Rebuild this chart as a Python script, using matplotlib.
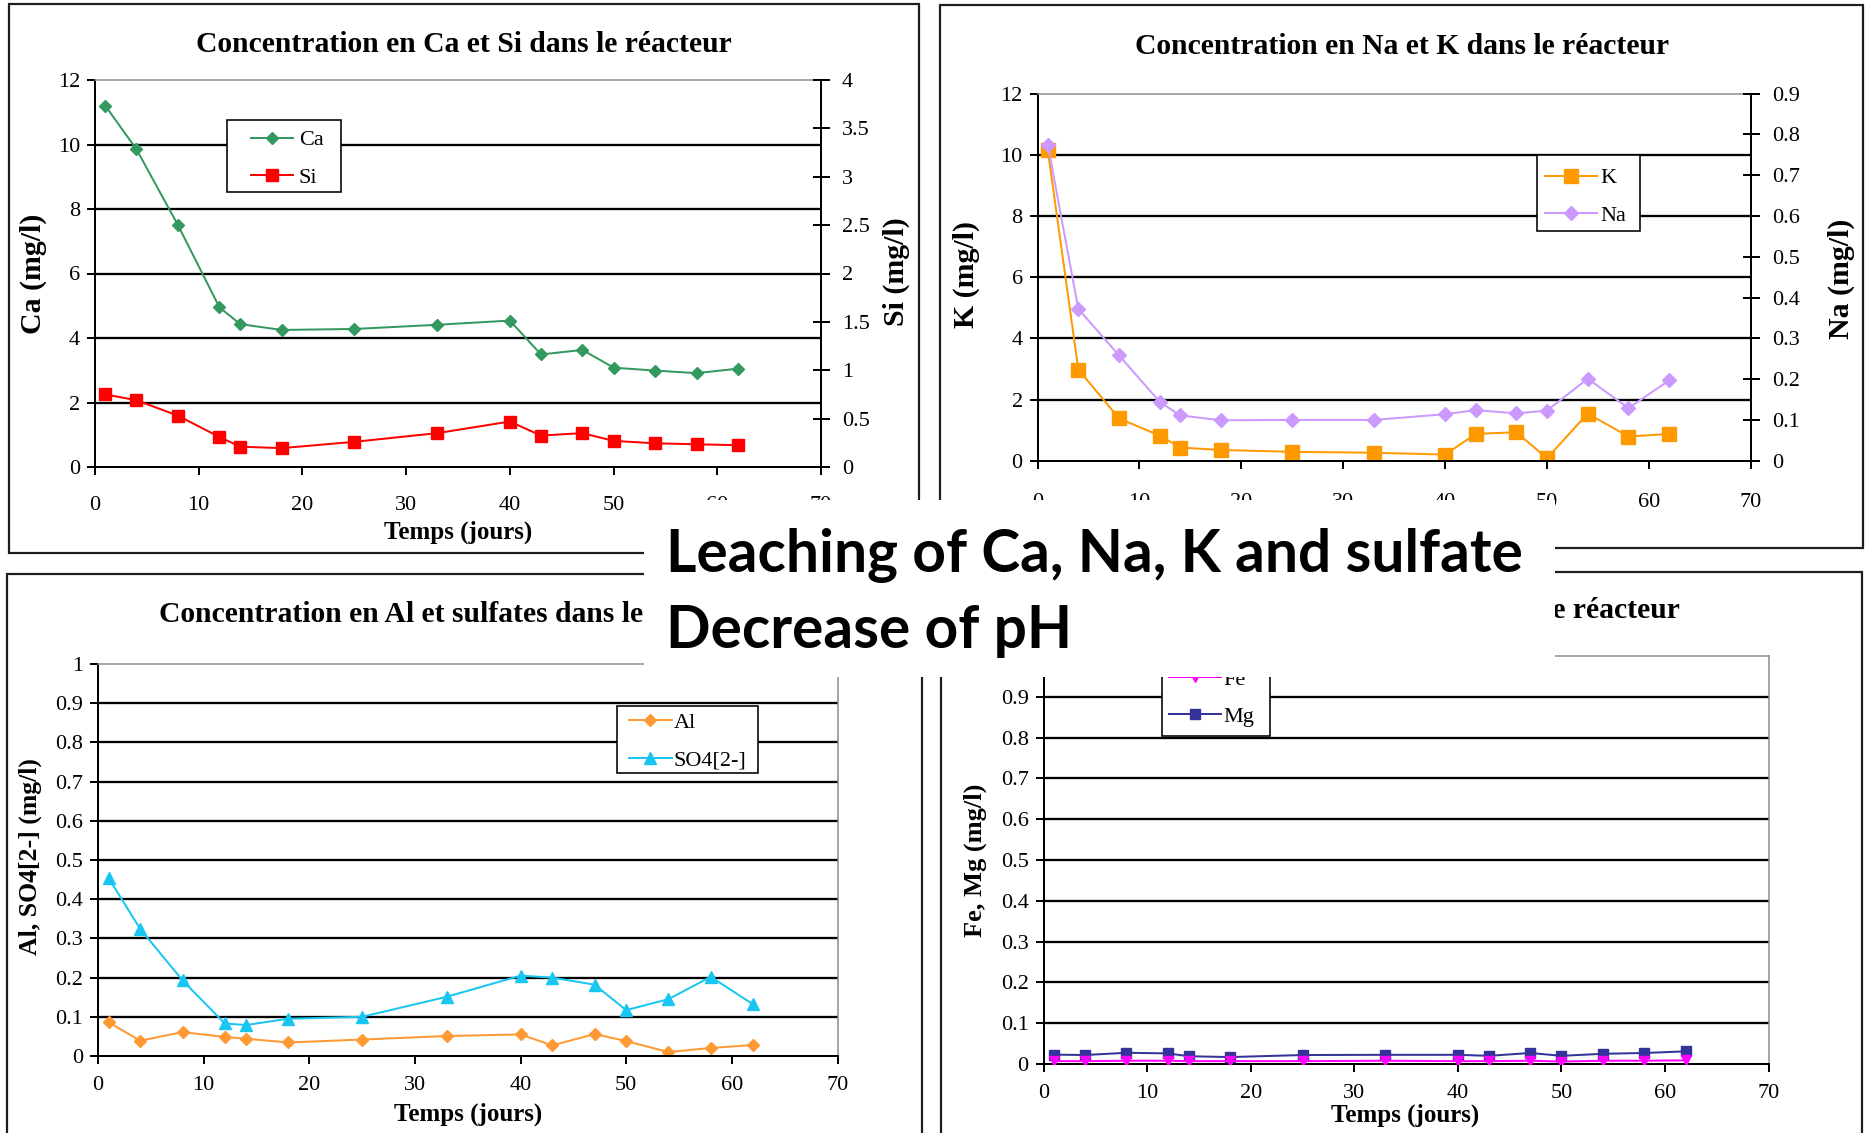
import matplotlib
matplotlib.use('Agg')
import matplotlib.pyplot as plt
from matplotlib.patches import Rectangle
from matplotlib.ticker import FuncFormatter

# ---------------- data ----------------
DAYS = [1, 4, 8, 12, 14, 18, 25, 33, 40, 43, 47, 50, 54, 58, 62]
CA = [11.2, 9.85, 7.5, 4.95, 4.43, 4.25, 4.28, 4.41, 4.54, 3.49, 3.63, 3.08, 2.99, 2.91, 3.05]
SI = [0.75, 0.69, 0.53, 0.31, 0.21, 0.195, 0.26, 0.35, 0.47, 0.325, 0.35, 0.27, 0.245, 0.235, 0.225]
K = [10.15, 2.98, 1.38, 0.82, 0.43, 0.35, 0.29, 0.26, 0.2, 0.875, 0.93, 0.08, 1.54, 0.79, 0.875]
NA = [0.775, 0.372, 0.258, 0.144, 0.111, 0.099, 0.1, 0.1, 0.114, 0.124, 0.116, 0.123, 0.201, 0.129, 0.197]
AL = [0.086, 0.039, 0.061, 0.0485, 0.044, 0.0345, 0.042, 0.051, 0.055, 0.027, 0.056, 0.038, 0.01, 0.0205, 0.028]
SO4 = [0.454, 0.324, 0.193, 0.083, 0.079, 0.095, 0.1, 0.151, 0.205, 0.2, 0.182, 0.117, 0.145, 0.202, 0.132]
FE = [0.007, 0.007, 0.008, 0.008, 0.007, 0.007, 0.007, 0.008, 0.007, 0.007, 0.008, 0.006, 0.008, 0.008, 0.009]
MG = [0.023, 0.022, 0.0275, 0.026, 0.019, 0.017, 0.022, 0.0225, 0.0225, 0.02, 0.027, 0.02, 0.025, 0.027, 0.031]

X_TICKS = [0, 10, 20, 30, 40, 50, 60, 70]
CA_TICKS = [0, 2, 4, 6, 8, 10, 12]
SI_TICKS = [0, 0.5, 1, 1.5, 2, 2.5, 3, 3.5, 4]
K_TICKS = [0, 2, 4, 6, 8, 10, 12]
NA_TICKS = [0, 0.1, 0.2, 0.3, 0.4, 0.5, 0.6, 0.7, 0.8, 0.9]
LOW_TICKS = [0, 0.1, 0.2, 0.3, 0.4, 0.5, 0.6, 0.7, 0.8, 0.9, 1]

TITLES = ["Concentration en Ca et Si dans le réacteur",
          "Concentration en Na et K dans le réacteur",
          "Concentration en Al et sulfates dans le réacteur",
          "Concentration en Fe et Mg dans le réacteur"]
XLABEL = "Temps (jours)"
OVERLAY = ["Leaching of Ca, Na, K and sulfate", "Decrease of pH"]

# ---------------- layout helpers (pixel based) ----------------
W, H = 1867, 1133
DPI = 100
PX = 72.0 / DPI

plt.rcParams['font.family'] = ['Liberation Serif', 'DejaVu Serif']

fig = plt.figure(figsize=(W / DPI, H / DPI), dpi=DPI, facecolor='white')


def fx(x):
    return x / W


def fy(y):
    return 1 - y / H


def add_axes(l, t, r, b):
    return fig.add_axes([l / W, 1 - b / H, (r - l) / W, (b - t) / H])


def frame(l, t, r, b):
    fig.add_artist(Rectangle((fx(l), fy(b)), (r - l) / W, (b - t) / H,
                             transform=fig.transFigure, fill=False,
                             edgecolor='#1e1e1e', lw=2.2 * PX, zorder=1))


fmt = FuncFormatter(lambda v, p: f"{v:g}")
TICK_FS = 16


def style(ax, yticks, xpad):
    ax.set_xlim(0, 70)
    ax.set_ylim(yticks[0], yticks[-1])
    ax.set_xticks(X_TICKS)
    ax.set_yticks(yticks)
    ax.yaxis.set_major_formatter(fmt)
    for s in ['left', 'bottom']:
        ax.spines[s].set_color('black')
        ax.spines[s].set_linewidth(2 * PX)
    for s in ['top', 'right']:
        ax.spines[s].set_color('#8a8a8a')
        ax.spines[s].set_linewidth(1.5 * PX)
    ax.tick_params(axis='both', direction='out', length=8 * PX, width=2 * PX,
                   labelsize=TICK_FS, colors='black')
    ax.tick_params(axis='x', pad=xpad)
    ax.tick_params(axis='y', pad=5, right=False)
    ax.hlines(yticks[1:-1], 0, 1, transform=ax.get_yaxis_transform(),
              colors='black', lw=2.3 * PX, zorder=1)


def set_xlab(ax, box, xy):
    l, t, r, b = box
    ax.set_xlabel(XLABEL, fontsize=18, fontweight='bold')
    ax.xaxis.set_label_coords((xy[0] - l) / (r - l), (b - xy[1]) / (b - t))
    ax.xaxis.label.set_va('center')


def set_ylab(ax, box, text, xy, fs):
    l, t, r, b = box
    ax.set_ylabel(text, fontsize=fs, fontweight='bold')
    ax.yaxis.set_label_coords((xy[0] - l) / (r - l), (b - xy[1]) / (b - t))
    ax.yaxis.label.set_va('center')
    ax.yaxis.label.set_ha('center')


def twin(ax, yticks, box, ylab, ylab_xy, ylab_fs):
    tw = ax.twinx()
    tw.set_ylim(yticks[0], yticks[-1])
    tw.set_yticks(yticks)
    tw.yaxis.set_major_formatter(fmt)
    for s in ['left', 'top', 'bottom']:
        tw.spines[s].set_visible(False)
    tw.spines['right'].set_color('black')
    tw.spines['right'].set_linewidth(2 * PX)
    ax.spines['right'].set_visible(False)
    tw.tick_params(axis='y', direction='inout', length=17 * PX, width=2 * PX,
                   labelsize=TICK_FS, pad=9, colors='black')
    set_ylab(tw, box, ylab, ylab_xy, ylab_fs)
    return tw


def legend(handles, labels, x_handle, y_mid, hl, htp, ls, box):
    l, t, r, b = box
    fig.add_artist(Rectangle((fx(l), fy(b)), (r - l) / W, (b - t) / H,
                             transform=fig.transFigure, facecolor='white',
                             edgecolor='black', lw=1.6 * PX, zorder=4.9))
    lg = fig.legend(handles, labels, loc='center left',
                    bbox_to_anchor=(fx(x_handle), fy(y_mid)),
                    bbox_transform=fig.transFigure, frameon=False,
                    borderpad=0, borderaxespad=0, handlelength=hl,
                    handletextpad=htp, labelspacing=ls,
                    prop={'family': 'Liberation Serif', 'size': 16})
    lg.set_zorder(5)
    return lg


LW = 2 * PX

# ---------------- panel frames ----------------
frame(9, 4, 919, 553)
frame(940, 5, 1863, 548)
frame(7, 574, 922, 1150)
frame(941, 572, 1862, 1150)

# ---------------- panel 1 : Ca / Si ----------------
B1 = (95, 80, 821, 467)
ax1 = add_axes(*B1)
style(ax1, CA_TICKS, 14.8)
hCa, = ax1.plot(DAYS, CA, color='#33995e', marker='D', ms=6.4, lw=LW, zorder=2, label='Ca')
set_xlab(ax1, B1, (458, 532))
set_ylab(ax1, B1, 'Ca (mg/l)', (33, 274), 21.5)
tw1 = twin(ax1, SI_TICKS, B1, 'Si (mg/l)', (896, 272), 21.5)
hSi, = tw1.plot(DAYS, SI, color='#ff0000', marker='s', ms=8.6, lw=LW, zorder=2, label='Si')
fig.text(fx(464), fy(52), TITLES[0], ha='center', va='baseline', fontsize=21.3, fontweight='bold')
legend([hCa, hSi], ['Ca', 'Si'], 250.7, 159, 1.9, 0.27, 0.78, (227, 120, 341, 192))

# ---------------- panel 2 : K / Na ----------------
B2 = (1037.6, 93.6, 1750.7, 460.7)
ax2 = add_axes(*B2)
style(ax2, K_TICKS, 17.6)
hK, = ax2.plot(DAYS, K, color='#ff9900', marker='s', ms=10.5, lw=LW, zorder=2, label='K')
set_ylab(ax2, B2, 'K (mg/l)', (966, 275), 21.5)
tw2 = twin(ax2, NA_TICKS, B2, 'Na (mg/l)', (1841.5, 279), 21.5)
hNa, = tw2.plot(DAYS, NA, color='#cc99ff', marker='D', ms=7.5, lw=LW, zorder=2, label='Na')
fig.text(fx(1402), fy(53.5), TITLES[1], ha='center', va='baseline', fontsize=21.3, fontweight='bold')
legend([hK, hNa], ['K', 'Na'], 1545, 197, 2.34, 0.14, 0.78, (1537, 155, 1640, 231))

# ---------------- panel 3 : Al / SO4 ----------------
B3 = (98, 664, 837.5, 1056)
ax3 = add_axes(*B3)
style(ax3, LOW_TICKS, 9)
hAl, = ax3.plot(DAYS, AL, color='#ff9933', marker='D', ms=6.4, lw=LW, zorder=2, label='Al')
hSO, = ax3.plot(DAYS, SO4, color='#19c6f2', marker='^', ms=9, lw=LW, zorder=2, label='SO4[2-]')
set_xlab(ax3, B3, (468.5, 1114))
set_ylab(ax3, B3, 'Al, SO4[2-] (mg/l)', (30, 857), 18.5)
fig.text(fx(458), fy(622), TITLES[2], ha='center', va='baseline', fontsize=21.3, fontweight='bold')
legend([hAl, hSO], ['Al', 'SO4[2-]'], 629, 741.5, 1.92, 0.08, 0.75, (617, 706, 758, 773))

# ---------------- panel 4 : Fe / Mg ----------------
B4 = (1043.6, 656, 1768.6, 1064)
ax4 = add_axes(*B4)
style(ax4, LOW_TICKS, 9)
# the top label ("1") lies under the overlay box in the reference
ax4.yaxis.set_major_formatter(FuncFormatter(lambda v, p: "" if v >= LOW_TICKS[-1] else f"{v:g}"))
hFe, = ax4.plot(DAYS, FE, color='#ff00ff', marker='v', ms=7.8, lw=LW, zorder=3, label='Fe')
hMg, = ax4.plot(DAYS, MG, color='#333399', marker='s', ms=6.8, lw=LW, zorder=2, label='Mg')
set_xlab(ax4, B4, (1405, 1115))
set_ylab(ax4, B4, 'Fe, Mg (mg/l)', (975, 860), 19)
fig.text(fx(1405), fy(618), TITLES[3], ha='center', va='baseline', fontsize=21.3, fontweight='bold')
legend([hFe, hMg], ['Fe', 'Mg'], 1169, 698, 2.34, 0.09, 0.75, (1162, 655, 1270, 736))

# ---------------- overlay box ----------------
fig.add_artist(Rectangle((fx(644), fy(677)), (1555 - 644) / W, (677 - 500) / H,
                         transform=fig.transFigure, facecolor='white',
                         edgecolor='none', zorder=20))
t1 = fig.text(fx(666), fy(571.7), OVERLAY[0], fontfamily='Lato', fontweight='bold',
              fontsize=40, va='baseline', ha='left', zorder=21)
t2 = fig.text(fx(666), fy(648), OVERLAY[1], fontfamily='Lato', fontweight='bold',
              fontsize=40, va='baseline', ha='left', zorder=21)
renderer = fig.canvas.get_renderer()
wcur = t1.get_window_extent(renderer).width
fs = 40 * 857.0 / wcur
t1.set_fontsize(fs)
t2.set_fontsize(fs)

fig.savefig('out.png', dpi=DPI, facecolor='white')
